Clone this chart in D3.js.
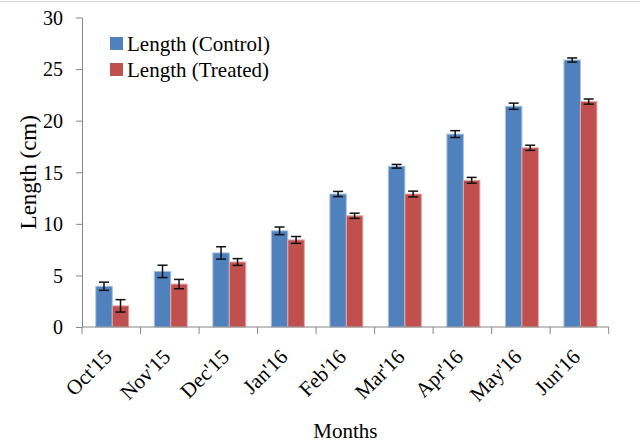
<!DOCTYPE html>
<html>
<head>
<meta charset="utf-8">
<script src="https://cdn.jsdelivr.net/npm/d3@7"></script>
<style>
  html, body { margin: 0; padding: 0; background: #fff; }
  svg { display: block; }
  svg text { font-family: "Liberation Serif", "Times New Roman", serif; }
</style>
</head>
<body>
<svg id="chart" width="640" height="443"></svg>
<script>
// Monthly shoot length, control vs treated, with standard error
const months = ["Oct'15", "Nov'15", "Dec'15", "Jan'16", "Feb'16", "Mar'16", "Apr'16", "May'16", "Jun'16"];
const controlLength = [3.95, 5.39, 7.18, 9.32, 12.89, 15.58, 18.7, 21.4, 25.88];
const controlError = [0.4, 0.6, 0.6, 0.37, 0.25, 0.18, 0.33, 0.3, 0.2];
const treatedLength = [2.05, 4.16, 6.3, 8.44, 10.78, 12.89, 14.22, 17.37, 21.85];
const treatedError = [0.6, 0.45, 0.33, 0.33, 0.25, 0.28, 0.28, 0.25, 0.25];
const seriesNames = ["Length (Control)", "Length (Treated)"];
const seriesColors = ["#4f81bd", "#c0504d"];
const seriesEdges = ["#a9c2e2", "#e3aaa8"];
const yTicks = [0, 5, 10, 15, 20, 25, 30];

const FONT = "Liberation Serif";
const svg = d3.select("#chart");
const plot = { left: 82, right: 608.7, top: 17.5, bottom: 327 };

// outer chart border line
svg.append("line")
  .attr("x1", 0).attr("x2", 640).attr("y1", 1.5).attr("y2", 1.5)
  .attr("stroke", "#d9d9d9").attr("stroke-width", 1);

const x = d3.scaleBand().domain(months).range([plot.left, plot.right]).padding(0);
const groupWidth = 33;
const xInner = d3.scaleBand().domain([0, 1]).range([0, groupWidth]).padding(0);
const y = d3.scaleLinear().domain([0, 30]).range([plot.bottom, plot.top]);

const rows = months.map((m, i) => ({
  month: m,
  values: [
    { s: 0, v: controlLength[i], e: controlError[i] },
    { s: 1, v: treatedLength[i], e: treatedError[i] }
  ]
}));

// bars
const groups = svg.append("g").selectAll("g").data(rows).join("g")
  .attr("transform", d => `translate(${x(d.month) + (x.bandwidth() - groupWidth) / 2 + 1},0)`);

groups.selectAll("rect").data(d => d.values).join("rect")
  .attr("x", d => xInner(d.s))
  .attr("y", d => y(d.v))
  .attr("width", xInner.bandwidth())
  .attr("height", d => y(0) - y(d.v))
  .attr("fill", d => seriesColors[d.s])
  .attr("stroke", d => seriesEdges[d.s])
  .attr("stroke-width", 1);

// error bars
const capHalf = 5;
const err = groups.selectAll("g.err").data(d => d.values).join("g").attr("class", "err")
  .attr("stroke", "#111").attr("stroke-width", 1.5);
err.append("line")
  .attr("x1", d => xInner(d.s) + xInner.bandwidth() / 2)
  .attr("x2", d => xInner(d.s) + xInner.bandwidth() / 2)
  .attr("y1", d => y(d.v + d.e)).attr("y2", d => y(d.v - d.e));
err.append("line")
  .attr("x1", d => xInner(d.s) + xInner.bandwidth() / 2 - capHalf)
  .attr("x2", d => xInner(d.s) + xInner.bandwidth() / 2 + capHalf)
  .attr("y1", d => y(d.v + d.e)).attr("y2", d => y(d.v + d.e));
err.append("line")
  .attr("x1", d => xInner(d.s) + xInner.bandwidth() / 2 - capHalf)
  .attr("x2", d => xInner(d.s) + xInner.bandwidth() / 2 + capHalf)
  .attr("y1", d => y(d.v - d.e)).attr("y2", d => y(d.v - d.e));

// y axis
const yAxis = svg.append("g")
  .attr("transform", `translate(${plot.left},0)`)
  .call(d3.axisLeft(y).tickValues(yTicks).tickSize(6).tickSizeOuter(0).tickPadding(13));
yAxis.attr("font-family", FONT).attr("font-size", 20);
yAxis.select(".domain").attr("stroke", "#868686");
yAxis.selectAll(".tick line").attr("stroke", "#868686");
yAxis.selectAll(".tick text")
  .attr("font-family", FONT).attr("font-size", 20).attr("fill", "#000")
  .attr("dy", "0.34em");

// x axis: ticks at category boundaries
const xAxisG = svg.append("g").attr("transform", `translate(0,${plot.bottom})`);
xAxisG.append("line")
  .attr("x1", plot.left).attr("x2", plot.right)
  .attr("stroke", "#868686");
xAxisG.selectAll("line.tk").data(months.concat(["end"])).join("line").attr("class", "tk")
  .attr("x1", (d, i) => plot.left + i * x.bandwidth())
  .attr("x2", (d, i) => plot.left + i * x.bandwidth())
  .attr("y1", 0).attr("y2", 7)
  .attr("stroke", "#868686");
xAxisG.selectAll("text").data(months).join("text")
  .attr("transform", d => `translate(${x(d) + x.bandwidth() / 2 + 2},31) rotate(-45)`)
  .attr("text-anchor", "end")
  .attr("font-family", FONT)
  .attr("font-size", 21)
  .attr("fill", "#000")
  .text(d => d);

// axis titles
svg.append("text")
  .attr("x", (plot.left + plot.right) / 2).attr("y", 438)
  .attr("text-anchor", "middle").attr("font-family", FONT).attr("font-size", 21).attr("fill", "#000")
  .text("Months");
svg.append("text")
  .attr("transform", `translate(36,${(plot.top + plot.bottom) / 2}) rotate(-90)`)
  .attr("text-anchor", "middle").attr("font-family", FONT).attr("font-size", 23).attr("fill", "#000")
  .text("Length (cm)");

// legend
const legend = svg.append("g").selectAll("g").data(seriesNames).join("g")
  .attr("transform", (d, i) => `translate(110,${37 + i * 26})`);
legend.append("rect").attr("width", 13).attr("height", 13)
  .attr("fill", (d, i) => seriesColors[i]);
legend.append("text").attr("x", 17).attr("y", 13.5)
  .attr("font-family", FONT).attr("font-size", 21).attr("fill", "#000")
  .text(d => d);
</script>
</body>
</html>
